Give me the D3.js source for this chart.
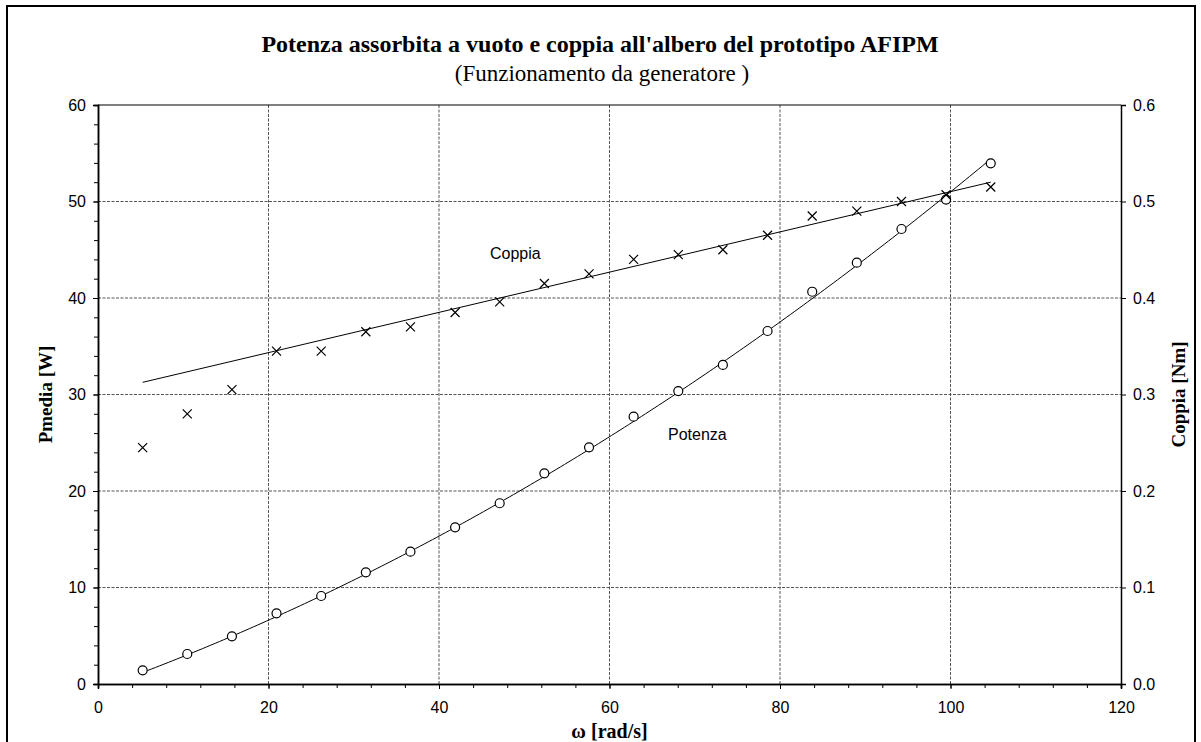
<!DOCTYPE html>
<html>
<head>
<meta charset="utf-8">
<script src="https://cdn.jsdelivr.net/npm/d3@7"></script>
<style>
  body { margin: 0; background: #fff; }
  .tick text { font-family: "Liberation Sans", Arial, sans-serif; font-size: 16px; }
  .serif { font-family: "Liberation Serif", "Times New Roman", serif; }
</style>
</head>
<body>
<svg id="chart" width="1201" height="742"></svg>
<script>
// velocità angolare [rad/s]
const omega = [5.24, 10.47, 15.71, 20.94, 26.18, 31.42, 36.65, 41.89, 47.12, 52.36,
  57.60, 62.83, 68.07, 73.30, 78.54, 83.78, 89.01, 94.25, 99.48, 104.72];
// potenza media assorbita [W]
const potenza = [1.42, 3.11, 4.94, 7.32, 9.12, 11.57, 13.71, 16.24, 18.73, 21.83,
  24.53, 27.70, 30.36, 33.06, 36.58, 40.65, 43.66, 47.15, 50.2, 53.96];
// coppia all'albero [Nm]
const coppia = [0.245, 0.280, 0.305, 0.345, 0.345, 0.365, 0.370, 0.385, 0.396, 0.415,
  0.425, 0.440, 0.445, 0.450, 0.465, 0.485, 0.490, 0.500, 0.507, 0.515];

// linee di tendenza
const potenzaFit = [-0.51, 0.3164, 0.001986]; // a + b*w + c*w^2
const coppiaFit = [0.3017, 0.002085];          // a + b*w

const xTicks = [0, 20, 40, 60, 80, 100, 120];
const yTicks = [0, 10, 20, 30, 40, 50, 60];
const y2Ticks = [0, 0.1, 0.2, 0.3, 0.4, 0.5, 0.6];

const svg = d3.select('#chart');
const pLeft = 98, pRight = 1121, pTop = 105, pBottom = 684;

const x = d3.scaleLinear().domain([0, 120]).range([pLeft, pRight]);
const y = d3.scaleLinear().domain([0, 60]).range([pBottom, pTop]);
const y2 = d3.scaleLinear().domain([0, 0.6]).range([pBottom, pTop]);

// cornice
svg.append('rect')
  .attr('x', 7).attr('y', 6).attr('width', 1188).attr('height', 780)
  .attr('fill', 'none').attr('stroke', '#000').attr('stroke-width', 2);

// griglia
svg.append('g').selectAll('line')
  .data(xTicks.slice(1, -1)).enter().append('line')
  .attr('x1', d => x(d)).attr('x2', d => x(d))
  .attr('y1', pTop).attr('y2', pBottom)
  .attr('stroke', '#555').attr('stroke-dasharray', '3,1.5');
svg.append('g').selectAll('line')
  .data(yTicks.slice(1, -1)).enter().append('line')
  .attr('x1', pLeft).attr('x2', pRight)
  .attr('y1', d => y(d)).attr('y2', d => y(d))
  .attr('stroke', '#555').attr('stroke-dasharray', '3,1.5');
svg.append('line')
  .attr('x1', pLeft).attr('x2', pRight).attr('y1', pTop).attr('y2', pTop)
  .attr('stroke', '#000');

// assi
var gx = svg.append('g').attr('transform', `translate(0,${pBottom})`);
gx.call(d3.axisBottom(x).tickValues(d3.range(0, 121, 4)).tickSize(4).tickFormat(''));
gx.append('g').call(d3.axisBottom(x).tickValues(xTicks).tickSize(5).tickPadding(13).tickFormat(d3.format('d')));

var gy = svg.append('g').attr('transform', `translate(${pLeft},0)`);
gy.call(d3.axisLeft(y).tickValues(d3.range(0, 61, 2)).tickSize(4).tickFormat(''));
gy.append('g').call(d3.axisLeft(y).tickValues(yTicks).tickSize(5).tickPadding(7).tickFormat(d3.format('d')));

var gy2 = svg.append('g').attr('transform', `translate(${pRight},0)`);
gy2.call(d3.axisRight(y2).tickValues(y2Ticks).tickSize(5).tickPadding(7).tickFormat(d3.format('.1f')));

svg.selectAll('.domain').attr('stroke', '#000').attr('stroke-width', 1.5);
svg.selectAll('.tick line').attr('stroke', '#000');
svg.selectAll('.tick text').attr('fill', '#000');

// linee di tendenza
const wFit = d3.range(omega[0], omega[omega.length - 1], 0.5).concat([omega[omega.length - 1]]);
var lineP = d3.line().x(w => x(w)).y(w => y(potenzaFit[0] + potenzaFit[1] * w + potenzaFit[2] * w * w));
var lineC = d3.line().x(w => x(w)).y(w => y2(coppiaFit[0] + coppiaFit[1] * w));
svg.append('path').attr('d', lineP(wFit))
  .attr('fill', 'none').attr('stroke', '#000').attr('stroke-width', 1);
svg.append('path').attr('d', lineC([omega[0], omega[omega.length - 1]]))
  .attr('fill', 'none').attr('stroke', '#000').attr('stroke-width', 1);

// punti potenza
svg.append('g').selectAll('circle')
  .data(omega).enter().append('circle')
  .attr('cx', d => x(d)).attr('cy', (d, i) => y(potenza[i]))
  .attr('r', 4.5).attr('fill', '#fff').attr('stroke', '#000').attr('stroke-width', 1.2);

// punti coppia
var s = 4.5;
svg.append('g').selectAll('path')
  .data(omega).enter().append('path')
  .attr('d', (d, i) => {
    var cx = x(d), cy = y2(coppia[i]);
    return `M${cx - s},${cy - s}L${cx + s},${cy + s}M${cx - s},${cy + s}L${cx + s},${cy - s}`;
  })
  .attr('stroke', '#000').attr('stroke-width', 1.2);

// testi
svg.append('text').attr('class', 'serif')
  .attr('x', 600).attr('y', 52).attr('text-anchor', 'middle')
  .style('font-size', '24px').style('font-weight', 'bold')
  .text("Potenza assorbita a vuoto e coppia all'albero del prototipo AFIPM");
svg.append('text').attr('class', 'serif')
  .attr('x', 602).attr('y', 81).attr('text-anchor', 'middle')
  .style('font-size', '23px')
  .text('(Funzionamento da generatore )');

svg.append('text').attr('class', 'serif')
  .attr('transform', `translate(52,${(pTop + pBottom) / 2}) rotate(-90)`)
  .attr('text-anchor', 'middle').style('font-size', '19px').style('font-weight', 'bold')
  .text('Pmedia [W]');
svg.append('text').attr('class', 'serif')
  .attr('transform', `translate(1185,${(pTop + pBottom) / 2}) rotate(-90)`)
  .attr('text-anchor', 'middle').style('font-size', '19px').style('font-weight', 'bold')
  .text('Coppia [Nm]');
svg.append('text').attr('class', 'serif')
  .attr('x', (pLeft + pRight) / 2).attr('y', 738).attr('text-anchor', 'middle')
  .style('font-size', '20px').style('font-weight', 'bold')
  .text('ω [rad/s]');

svg.append('text').attr('x', 490).attr('y', 259)
  .style('font-family', '"Liberation Sans", Arial, sans-serif').style('font-size', '16px')
  .text('Coppia');
svg.append('text').attr('x', 668).attr('y', 440)
  .style('font-family', '"Liberation Sans", Arial, sans-serif').style('font-size', '16px')
  .text('Potenza');
</script>
</body>
</html>
